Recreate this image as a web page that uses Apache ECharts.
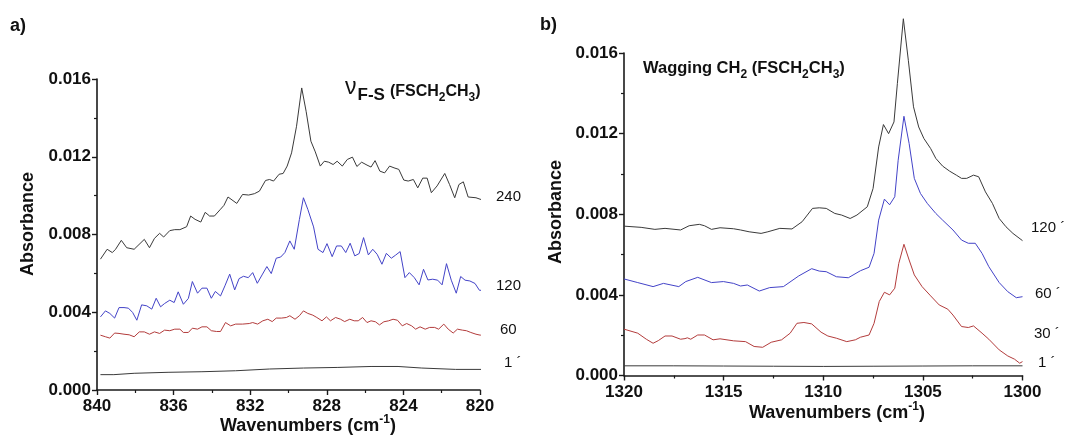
<!DOCTYPE html>
<html><head><meta charset="utf-8">
<script src="https://cdn.jsdelivr.net/npm/echarts@6/dist/echarts.min.js"></script>
<style>html,body{margin:0;padding:0;background:#fff}#c{width:1065px;height:438px}</style>
</head><body><div id="c"></div>
<script>
// ---------- Panel a) : nu F-S region (wavenumber, absorbance) ----------
const aXTicks = [840, 836, 832, 828, 824, 820];
const aYTicks = [0.000, 0.004, 0.008, 0.012, 0.016];
const a240 = [[839.82,0.00673],[839.47,0.00724],[839.20,0.00707],[839.03,0.00724],[838.73,0.00770],[838.45,0.00732],[838.06,0.00724],[837.53,0.00775],[837.26,0.00732],[837.00,0.00780],[836.73,0.00806],[836.52,0.00787],[836.20,0.00820],[835.94,0.00825],[835.67,0.00825],[835.32,0.00840],[835.11,0.00895],[834.88,0.00878],[834.58,0.00864],[834.35,0.00914],[834.12,0.00895],[833.87,0.00895],[833.55,0.00930],[833.37,0.00950],[833.16,0.00993],[832.70,0.00960],[832.40,0.01006],[832.08,0.01003],[831.78,0.01010],[831.52,0.01023],[831.20,0.01078],[830.99,0.01083],[830.78,0.01075],[830.49,0.01110],[830.28,0.01114],[830.07,0.01152],[829.84,0.01220],[829.58,0.01357],[829.31,0.01554],[829.08,0.01434],[828.83,0.01280],[828.60,0.01225],[828.34,0.01152],[828.13,0.01177],[827.90,0.01172],[827.67,0.01160],[827.46,0.01177],[827.19,0.01152],[826.93,0.01186],[826.66,0.01198],[826.43,0.01150],[826.18,0.01172],[825.90,0.01157],[825.69,0.01147],[825.48,0.01180],[825.23,0.01126],[824.98,0.01117],[824.72,0.01152],[824.49,0.01143],[824.24,0.01135],[823.98,0.01080],[823.75,0.01075],[823.48,0.01083],[823.25,0.01040],[822.99,0.01090],[822.76,0.01090],[822.54,0.01015],[822.24,0.01050],[821.84,0.01114],[821.59,0.01057],[821.32,0.00989],[821.10,0.01057],[820.87,0.01071],[820.62,0.00993],[820.21,0.00989],[819.95,0.00980],[819.73,0.00960]];
const a120 = [[839.82,0.00376],[839.56,0.00407],[839.33,0.00394],[839.08,0.00370],[838.85,0.00424],[838.59,0.00424],[838.36,0.00421],[838.14,0.00399],[837.92,0.00359],[837.67,0.00438],[837.40,0.00433],[837.14,0.00416],[836.91,0.00472],[836.68,0.00428],[836.47,0.00445],[836.20,0.00462],[835.97,0.00450],[835.76,0.00505],[835.49,0.00441],[835.23,0.00471],[835.02,0.00558],[834.75,0.00498],[834.52,0.00524],[834.26,0.00524],[834.03,0.00472],[833.82,0.00507],[833.55,0.00484],[833.32,0.00536],[833.07,0.00596],[832.81,0.00515],[832.58,0.00573],[832.35,0.00585],[832.10,0.00578],[831.87,0.00604],[831.63,0.00549],[831.38,0.00592],[831.13,0.00635],[830.90,0.00599],[830.64,0.00678],[830.41,0.00684],[830.19,0.00707],[829.93,0.00767],[829.70,0.00724],[829.43,0.00878],[829.22,0.00989],[828.99,0.00929],[828.69,0.00839],[828.46,0.00724],[828.20,0.00707],[827.99,0.00753],[827.72,0.00686],[827.49,0.00741],[827.24,0.00741],[827.01,0.00707],[826.78,0.00755],[826.54,0.00690],[826.31,0.00702],[826.08,0.00784],[825.83,0.00695],[825.60,0.00724],[825.37,0.00698],[825.12,0.00647],[824.89,0.00703],[824.63,0.00678],[824.42,0.00693],[824.17,0.00712],[823.92,0.00578],[823.69,0.00604],[823.43,0.00578],[823.18,0.00541],[822.95,0.00621],[822.72,0.00566],[822.47,0.00570],[822.21,0.00565],[821.98,0.00541],[821.75,0.00650],[821.50,0.00565],[821.24,0.00498],[821.01,0.00584],[820.78,0.00565],[820.53,0.00561],[820.26,0.00548],[820.03,0.00513],[819.82,0.00513],[819.72,0.00493]];
const a60 = [[839.82,0.00282],[839.56,0.00274],[839.33,0.00267],[839.08,0.00293],[838.85,0.00291],[838.59,0.00287],[838.32,0.00284],[838.06,0.00274],[837.79,0.00299],[837.53,0.00299],[837.26,0.00287],[837.00,0.00299],[836.73,0.00291],[836.47,0.00308],[836.20,0.00305],[835.94,0.00313],[835.67,0.00313],[835.49,0.00296],[835.23,0.00296],[835.02,0.00318],[834.75,0.00313],[834.52,0.00325],[834.26,0.00325],[834.03,0.00305],[833.76,0.00301],[833.55,0.00301],[833.29,0.00347],[833.02,0.00330],[832.76,0.00339],[832.40,0.00339],[832.05,0.00342],[831.87,0.00347],[831.61,0.00339],[831.34,0.00356],[831.08,0.00364],[830.85,0.00352],[830.64,0.00370],[830.37,0.00370],[830.11,0.00373],[829.93,0.00382],[829.66,0.00364],[829.43,0.00382],[829.22,0.00407],[828.99,0.00394],[828.73,0.00385],[828.52,0.00373],[828.25,0.00356],[828.02,0.00376],[827.81,0.00356],[827.54,0.00373],[827.28,0.00364],[827.07,0.00352],[826.80,0.00364],[826.57,0.00356],[826.36,0.00356],[826.13,0.00373],[825.90,0.00347],[825.69,0.00356],[825.46,0.00351],[825.25,0.00335],[825.02,0.00351],[824.77,0.00356],[824.54,0.00364],[824.31,0.00359],[824.06,0.00330],[823.83,0.00342],[823.57,0.00330],[823.36,0.00313],[823.13,0.00325],[822.86,0.00313],[822.63,0.00322],[822.37,0.00322],[822.16,0.00313],[821.89,0.00339],[821.66,0.00313],[821.40,0.00293],[821.18,0.00313],[820.92,0.00308],[820.71,0.00305],[820.48,0.00296],[820.21,0.00287],[819.98,0.00282],[819.86,0.00291],[819.72,0.00282]];
const a1 = [[839.82,0.00079],[839.12,0.00079],[838.06,0.00086],[836.29,0.00091],[834.52,0.00094],[832.76,0.00099],[830.99,0.00108],[829.22,0.00113],[827.46,0.00116],[825.69,0.00121],[824.28,0.00121],[823.04,0.00113],[821.27,0.00106],[819.72,0.00106]];

// ---------- Panel b) : CH2 wagging region ----------
const bXTicks = [1320, 1315, 1310, 1305, 1300];
const bYTicks = [0.000, 0.004, 0.008, 0.012, 0.016];
const b120 = [[1320.00,0.00741],[1319.14,0.00735],[1318.45,0.00725],[1317.94,0.00730],[1317.16,0.00722],[1316.73,0.00743],[1316.22,0.00750],[1315.96,0.00743],[1315.61,0.00725],[1315.18,0.00733],[1314.50,0.00728],[1314.15,0.00722],[1313.72,0.00713],[1313.12,0.00705],[1312.78,0.00713],[1312.18,0.00730],[1311.57,0.00727],[1311.06,0.00763],[1310.54,0.00829],[1310.20,0.00832],[1309.85,0.00829],[1309.42,0.00804],[1309.08,0.00796],[1308.65,0.00779],[1308.31,0.00796],[1307.79,0.00837],[1307.50,0.00928],[1307.22,0.01134],[1306.98,0.01245],[1306.72,0.01200],[1306.45,0.01258],[1306.28,0.01448],[1305.98,0.01770],[1305.73,0.01564],[1305.47,0.01333],[1305.21,0.01233],[1304.95,0.01176],[1304.61,0.01126],[1304.35,0.01077],[1304.01,0.01039],[1303.66,0.01014],[1303.32,0.00994],[1303.06,0.00978],[1302.80,0.00978],[1302.46,0.00994],[1302.20,0.00986],[1301.86,0.00911],[1301.51,0.00854],[1301.17,0.00779],[1300.83,0.00738],[1300.48,0.00705],[1300.00,0.00669]];
const b60 = [[1320.00,0.00479],[1319.31,0.00461],[1318.54,0.00441],[1318.02,0.00457],[1317.25,0.00441],[1316.90,0.00466],[1316.30,0.00487],[1315.61,0.00461],[1315.01,0.00466],[1314.50,0.00457],[1314.15,0.00444],[1313.81,0.00449],[1313.21,0.00419],[1312.69,0.00436],[1312.00,0.00441],[1311.23,0.00494],[1310.58,0.00530],[1310.20,0.00518],[1309.85,0.00515],[1309.34,0.00490],[1308.74,0.00485],[1308.13,0.00520],[1307.70,0.00537],[1307.45,0.00606],[1307.22,0.00771],[1306.93,0.00875],[1306.67,0.00847],[1306.41,0.00887],[1306.24,0.01068],[1305.95,0.01286],[1305.69,0.01151],[1305.43,0.00978],[1305.12,0.00903],[1304.78,0.00854],[1304.35,0.00804],[1304.01,0.00771],[1303.49,0.00722],[1303.06,0.00672],[1302.72,0.00656],[1302.37,0.00656],[1302.03,0.00606],[1301.69,0.00540],[1301.17,0.00461],[1300.74,0.00416],[1300.31,0.00386],[1300.00,0.00391]];
const b30 = [[1320.00,0.00230],[1319.31,0.00210],[1318.88,0.00180],[1318.54,0.00160],[1318.28,0.00173],[1317.94,0.00196],[1317.59,0.00196],[1317.16,0.00180],[1316.94,0.00183],[1316.82,0.00187],[1316.65,0.00180],[1316.30,0.00201],[1315.96,0.00201],[1315.53,0.00177],[1315.18,0.00182],[1314.50,0.00172],[1313.90,0.00168],[1313.47,0.00144],[1313.04,0.00140],[1312.61,0.00165],[1312.09,0.00177],[1311.66,0.00210],[1311.32,0.00259],[1310.97,0.00263],[1310.58,0.00256],[1310.11,0.00215],[1309.77,0.00196],[1309.34,0.00185],[1308.82,0.00168],[1308.39,0.00177],[1308.13,0.00190],[1307.70,0.00201],[1307.45,0.00259],[1307.19,0.00367],[1306.93,0.00413],[1306.67,0.00400],[1306.41,0.00433],[1306.21,0.00556],[1305.95,0.00651],[1305.69,0.00573],[1305.43,0.00499],[1305.04,0.00441],[1304.61,0.00395],[1304.18,0.00350],[1303.75,0.00329],[1303.49,0.00300],[1303.06,0.00243],[1302.72,0.00238],[1302.46,0.00246],[1302.03,0.00210],[1301.69,0.00180],[1301.17,0.00127],[1300.74,0.00097],[1300.40,0.00081],[1300.14,0.00061],[1300.00,0.00069]];
const b1 = [[1320.00,0.00048],[1317.50,0.00048],[1315.00,0.00047],[1312.50,0.00046],[1310.00,0.00045],[1307.50,0.00046],[1305.00,0.00047],[1302.50,0.00048],[1300.00,0.00048]];

// ---------- text labels ----------
const aCurveLabels = ['240', '120', '60', '1 \u00b4'];
const bCurveLabels = ['120 \u00b4', '60 \u00b4', '30 \u00b4', '1 \u00b4'];

const FONT = '"Liberation Sans", Arial, sans-serif';
const C_BLACK = '#3a3a3a', C_BLUE = '#4343c8', C_RED = '#b33c3c';

function xAxisCfg(gi, ticks) {
  const min = Math.min(...ticks), max = Math.max(...ticks);
  return {
    gridIndex: gi, type: 'value', min: min, max: max, inverse: true,
    interval: Math.abs(ticks[1] - ticks[0]),
    axisLine: { lineStyle: { color: '#1a1a1a', width: 1.6 } },
    axisTick: { length: 5, lineStyle: { color: '#1a1a1a', width: 1.4 } },
    minorTick: { show: true, splitNumber: 2, length: 3, lineStyle: { color: '#1a1a1a', width: 1.2 } },
    splitLine: { show: false }, minorSplitLine: { show: false },
    axisLabel: { color: '#111', fontFamily: FONT, fontWeight: 'bold', fontSize: 17, margin: 8,
      formatter: v => String(Math.round(v)) }
  };
}
function yAxisCfg(gi, ticks) {
  return {
    gridIndex: gi, type: 'value', min: ticks[0], max: ticks[ticks.length - 1], interval: ticks[1] - ticks[0],
    axisLine: { show: true, lineStyle: { color: '#1a1a1a', width: 1.6 } },
    axisTick: { show: true, length: 5, lineStyle: { color: '#1a1a1a', width: 1.4 } },
    minorTick: { show: true, splitNumber: 2, length: 3, lineStyle: { color: '#1a1a1a', width: 1.2 } },
    splitLine: { show: false }, minorSplitLine: { show: false },
    axisLabel: { color: '#111', fontFamily: FONT, fontWeight: 'bold', fontSize: 17, margin: 6,
      formatter: v => v.toFixed(3) }
  };
}
function line(xi, data, color) {
  return { type: 'line', xAxisIndex: xi, yAxisIndex: xi, data: data, showSymbol: false, clip: false,
    lineStyle: { color: color, width: 1 }, silent: true, animation: false, z: 3 };
}
function txt(x, y, s, size, weight, extra) {
  return Object.assign({ type: 'text', x: x, y: y,
    style: { text: s, fontFamily: FONT, fontSize: size, fontWeight: weight || 'normal', fill: '#111',
      align: 'left', verticalAlign: 'middle' } }, extra || {});
}
// lay out a sequence of text pieces on given baselines (for sub/superscripts)
const mctx = document.createElement('canvas').getContext('2d');
function flow(x0, parts) {
  let x = x0; const out = [];
  parts.forEach(p => {
    const w = p.weight || 'normal';
    mctx.font = w + ' ' + p.size + 'px ' + FONT;
    out.push({ type: 'text', x: x, y: p.base - 0.34 * p.size,
      style: { text: p.t, fontFamily: FONT, fontSize: p.size, fontWeight: w, fill: '#111', align: 'left', verticalAlign: 'middle' } });
    x += mctx.measureText(p.t).width + (p.gap || 0);
  });
  return out;
}

const titleA = flow(345, [
  { t: '\u03bd', size: 23, base: 95, gap: 1 },
  { t: 'F-S', size: 17, weight: 'bold', base: 101, gap: 5 },
  { t: '(FSCH', size: 16, weight: 'bold', base: 97 },
  { t: '2', size: 12, weight: 'bold', base: 102 },
  { t: 'CH', size: 16, weight: 'bold', base: 97 },
  { t: '3', size: 12, weight: 'bold', base: 102 },
  { t: ')', size: 16, weight: 'bold', base: 97 }
]);
const titleB = flow(643, [
  { t: 'Wagging CH', size: 16.5, weight: 'bold', base: 74 },
  { t: '2', size: 12, weight: 'bold', base: 79 },
  { t: ' (FSCH', size: 16.5, weight: 'bold', base: 74 },
  { t: '2', size: 12, weight: 'bold', base: 79 },
  { t: 'CH', size: 16.5, weight: 'bold', base: 74 },
  { t: '3', size: 12, weight: 'bold', base: 79 },
  { t: ')', size: 16.5, weight: 'bold', base: 74 }
]);

const chart = echarts.init(document.getElementById('c'), null, { renderer: 'canvas' });
const wnRich = { m: { fontFamily: FONT, fontWeight: 'bold', fontSize: 18, lineHeight: 24, fill: '#111' },
                 s: { fontFamily: FONT, fontWeight: 'bold', fontSize: 12, lineHeight: 16, verticalAlign: 'top', fill: '#111' } };
chart.setOption({
  animation: false,
  backgroundColor: '#fff',
  grid: [
    { left: 97, top: 79, width: 383, height: 311 },
    { left: 624, top: 53, width: 398.5, height: 322.5 }
  ],
  xAxis: [xAxisCfg(0, aXTicks), xAxisCfg(1, bXTicks)],
  yAxis: [yAxisCfg(0, aYTicks), yAxisCfg(1, bYTicks)],
  series: [
    line(0, a240, C_BLACK), line(0, a120, C_BLUE), line(0, a60, C_RED), line(0, a1, C_BLACK),
    line(1, b120, C_BLACK), line(1, b60, C_BLUE), line(1, b30, C_RED), line(1, b1, C_BLACK)
  ],
  graphic: [
    txt(10, 26, 'a)', 18, 'bold'),
    txt(540, 25, 'b)', 18, 'bold'),
    { type: 'text', x: 308, y: 426, style: { text: '{m|Wavenumbers (cm}{s|-1}{m|)}', align: 'center', verticalAlign: 'middle', rich: wnRich } },
    { type: 'text', x: 837, y: 413, style: { text: '{m|Wavenumbers (cm}{s|-1}{m|)}', align: 'center', verticalAlign: 'middle', rich: wnRich } },
    { type: 'text', x: 28, y: 224, rotation: Math.PI / 2, style: { text: 'Absorbance', fontFamily: FONT, fontWeight: 'bold', fontSize: 18, fill: '#111', align: 'center', verticalAlign: 'middle' } },
    { type: 'text', x: 556, y: 212, rotation: Math.PI / 2, style: { text: 'Absorbance', fontFamily: FONT, fontWeight: 'bold', fontSize: 18, fill: '#111', align: 'center', verticalAlign: 'middle' } },
    ...titleA, ...titleB,
    txt(496, 197, aCurveLabels[0], 15), txt(496, 286, aCurveLabels[1], 15), txt(500, 330, aCurveLabels[2], 15), txt(504, 363, aCurveLabels[3], 15),
    txt(1031, 228, bCurveLabels[0], 15), txt(1035, 294, bCurveLabels[1], 15), txt(1034, 334, bCurveLabels[2], 15), txt(1038, 363, bCurveLabels[3], 15)
  ]
});
</script></body></html>
